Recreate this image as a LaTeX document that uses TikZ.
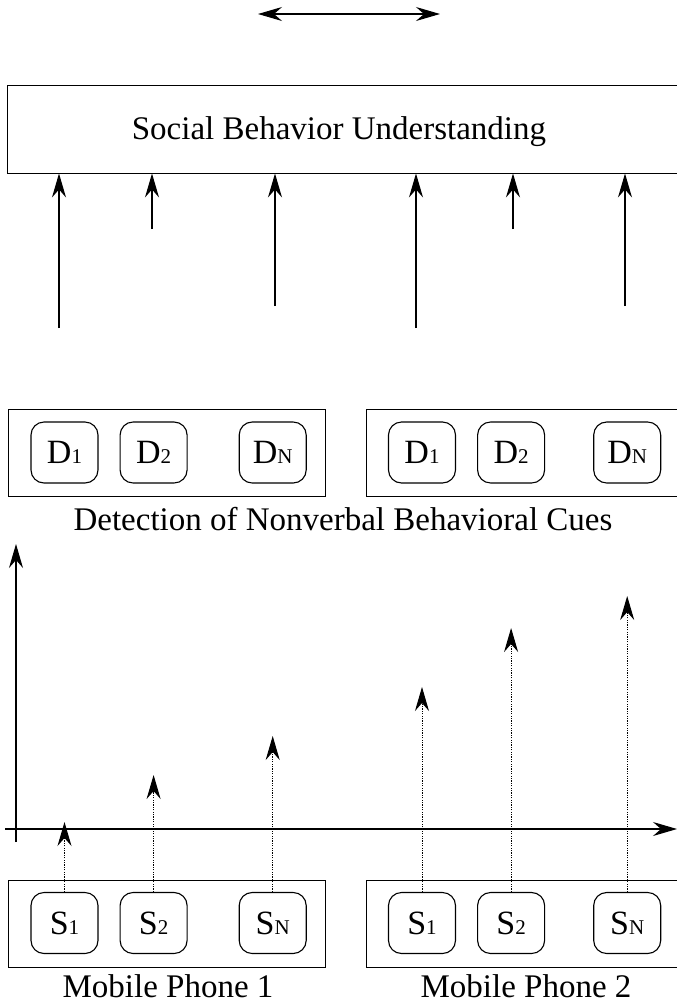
\documentclass[tikz,border=0pt]{standalone}
\usepackage{fontspec}
\setmainfont{Liberation Serif}
\newfontfamily\figfont{Liberation Serif}
\usetikzlibrary{arrows.meta,positioning}
\newcommand\cueidx[1]{{\fontsize{21}{21}\selectfont #1}}

\begin{document}
\begin{tikzpicture}[x=1pt,y=-1pt,
	head/.tip={Stealth[length=24pt,width=14pt,inset=8pt]},
	lbl/.style={font=\figfont\fontsize{33}{40}\selectfont,inner sep=0pt},
	group/.style={draw,line width=0.9pt,minimum width=317pt,minimum height=87pt,inner sep=0pt},
	cue/.style={draw,line width=1.1pt,rounded corners=13pt,minimum width=67pt,minimum height=61pt,inner sep=0pt,font=\figfont\fontsize{34}{40}\selectfont},
	arr/.style={-head,line width=1.1pt},
	sig/.style={-head,line width=1pt,dash pattern=on 1.2pt off 1.2pt}
	]
	\clip (0,0) rectangle (677,1005);
	% top level
	\coordinate (swl) at (258,14);
	\coordinate (swr) at (440,14);
	\draw[head-head,line width=1.1pt] (swl) -- (swr);
	\node[draw,line width=0.9pt,minimum width=678pt,minimum height=88pt,inner sep=0pt] (social) at (346,129) {};
	\node[lbl,anchor=base] (sbu) at (339,139) {Social Behavior Understanding};
	\foreach \n/\x/\y in {a/59/328,b/152/229,c/275/306,d/416/328,e/513/229,f/625/306}{
		\coordinate (in\n) at (\x,\y);
		\draw[arr] (in\n) -- (in\n |- social.south);
	}
	% detection
	\node[group] (det1) at (166.5,453) {};
	\node[group] (det2) at (524.5,453) {};
	\node[cue] (d11) at (64.5,452.5) {D\cueidx{1}};
	\node[cue] (d12) [right=21pt of d11] {D\cueidx{2}};
	\node[cue] (d1n) [right=51pt of d12] {D\cueidx{N}};
	\node[cue] (d21) at (422,452.5) {D\cueidx{1}};
	\node[cue] (d22) [right=21pt of d21] {D\cueidx{2}};
	\node[cue] (d2n) [right=48pt of d22] {D\cueidx{N}};
	\node[lbl,anchor=base] (detlbl) at (343,530) {Detection of Nonverbal Behavioral Cues};
	% axes
	\coordinate (yb) at (16,842);
	\coordinate (yt) at (16,544);
	\draw[arr] (yb) -- (yt);
	\coordinate (xl) at (5,829);
	\coordinate (xr) at (677,829);
	\draw[arr] (xl) -- (xr);
	% phones
	\node[group] (mob1) at (166.5,924) {};
	\node[group] (mob2) at (524.5,924) {};
	\node[cue] (s11) at (64.5,923) {S\cueidx{1}};
	\node[cue] (s12) [right=21pt of s11] {S\cueidx{2}};
	\node[cue] (s1n) [right=51pt of s12] {S\cueidx{N}};
	\node[cue] (s21) at (422,923) {S\cueidx{1}};
	\node[cue] (s22) [right=21pt of s21] {S\cueidx{2}};
	\node[cue] (s2n) [right=48pt of s22] {S\cueidx{N}};
	\node[lbl,anchor=base] (mp1) at (168,997) {Mobile Phone 1};
	\node[lbl,anchor=base] (mp2) at (526,997) {Mobile Phone 2};
	\foreach \s/\y in {s11/822,s12/775,s1n/736,s21/687,s22/628,s2n/596}
		\draw[sig] (\s.north) -- (\s.north |- 0,\y);
\end{tikzpicture}
\end{document}
